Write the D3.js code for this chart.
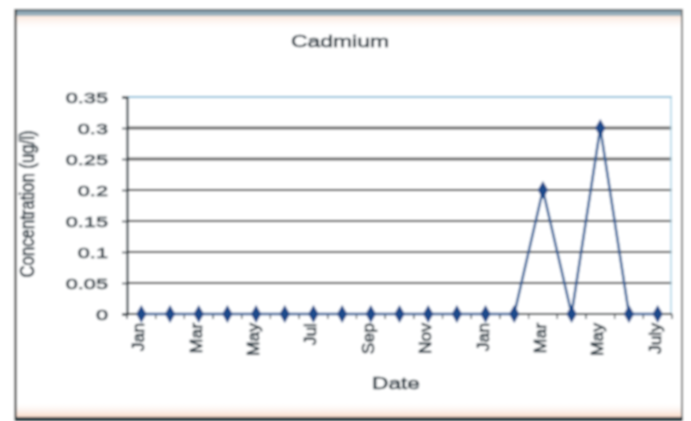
<!DOCTYPE html>
<html>
<head>
<meta charset="utf-8">
<script src="https://cdn.jsdelivr.net/npm/d3@7"></script>
<style>
  html, body { margin: 0; padding: 0; background: #fff; }
  svg { display: block; }
  text { font-family: "Liberation Sans", Arial, sans-serif; fill: #2b3a44; }
</style>
</head>
<body>
<svg id="chart" width="691" height="421"></svg>
<script>
// Monthly cadmium readings, Jan through July of the following year
const months = ["Jan","Feb","Mar","Apr","May","Jun","Jul","Aug","Sep","Oct","Nov","Dec",
                "Jan","Feb","Mar","Apr","May","Jun","July"];
const cadmium = [0,0,0,0,0,0,0,0,0,0,0,0,0,0,0.2,0,0.3,0,0];
const yTicks = [0,0.05,0.1,0.15,0.2,0.25,0.3,0.35];
const yTickLabels = ["0","0.05","0.1","0.15","0.2","0.25","0.3","0.35"];
const titleText = "Cadmium";
const xTitle = "Date";
const yTitle = "Concentration (ug/l)";

const svg = d3.select("#chart");
const W = 691, H = 421;
const plot = { left: 127, right: 672, top: 97, bottom: 314 };
const SX = 1.45; // horizontal glyph stretch
const ink = "#2a3841";
const weight = 0.55;

const defs = svg.append("defs");
const soft = defs.append("filter").attr("id", "soft")
  .attr("filterUnits", "userSpaceOnUse")
  .attr("x", 0).attr("y", 0).attr("width", W).attr("height", H);
soft.append("feGaussianBlur").attr("stdDeviation", 0.8);

const band = defs.append("linearGradient").attr("id", "topband")
  .attr("x1", 0).attr("x2", 0).attr("y1", 0).attr("y2", 1);
band.append("stop").attr("offset", "0%").attr("stop-color", "#5d707c");
band.append("stop").attr("offset", "50%").attr("stop-color", "#8fa6b3");
band.append("stop").attr("offset", "100%").attr("stop-color", "#a9bcc6");

const pinkBottom = defs.append("linearGradient").attr("id", "pinkb")
  .attr("x1", 0).attr("x2", 0).attr("y1", 0).attr("y2", 1);
pinkBottom.append("stop").attr("offset", "0%").attr("stop-color", "#fff").attr("stop-opacity", 0);
pinkBottom.append("stop").attr("offset", "100%").attr("stop-color", "#f8d9c8").attr("stop-opacity", 1);

const pinkTop = defs.append("linearGradient").attr("id", "pinkt")
  .attr("x1", 0).attr("x2", 0).attr("y1", 0).attr("y2", 1);
pinkTop.append("stop").attr("offset", "0%").attr("stop-color", "#fbe6da").attr("stop-opacity", 1);
pinkTop.append("stop").attr("offset", "100%").attr("stop-color", "#fff").attr("stop-opacity", 0);

const g = svg.append("g").attr("filter", "url(#soft)");

// chart frame
g.append("rect").attr("x", 0).attr("y", 0).attr("width", W).attr("height", H).attr("fill", "#fff");
g.append("rect").attr("x", 16).attr("y", 16).attr("width", 666).attr("height", 14).attr("fill", "url(#pinkt)");
g.append("rect").attr("x", 16).attr("y", 402).attr("width", 666).attr("height", 15).attr("fill", "url(#pinkb)");
g.append("rect").attr("x", 15).attr("y", 9).attr("width", 668).attr("height", 7).attr("fill", "url(#topband)");
g.append("line").attr("x1", 15).attr("x2", 683).attr("y1", 9.5).attr("y2", 9.5).attr("stroke", "#333").attr("stroke-width", 1);
g.append("line").attr("x1", 15.5).attr("x2", 15.5).attr("y1", 9).attr("y2", 421).attr("stroke", "#222").attr("stroke-width", 2);
g.append("line").attr("x1", 682).attr("x2", 682).attr("y1", 9).attr("y2", 418).attr("stroke", "#777").attr("stroke-width", 2);
g.append("rect").attr("x", 15).attr("y", 417).attr("width", 668).attr("height", 4).attr("fill", "#2e3c42");

// scales
const x = d3.scaleBand().domain(d3.range(months.length)).range([plot.left, plot.right]);
const y = d3.scaleLinear().domain([0, 0.35]).range([plot.bottom, plot.top]);

// gridlines
g.append("g").selectAll("line").data(yTicks.filter(v => v > 0)).join("line")
  .attr("x1", plot.left).attr("x2", plot.right)
  .attr("y1", d => y(d)).attr("y2", d => y(d))
  .attr("stroke", d => d === 0.35 ? "#8fc3dc" : (d >= 0.25 ? "#666" : "#222"))
  .attr("stroke-width", d => d === 0.35 ? 2 : (d >= 0.25 ? 3.2 : 2.2));
g.append("line").attr("x1", plot.right - 1).attr("x2", plot.right - 1)
  .attr("y1", plot.top).attr("y2", plot.bottom).attr("stroke", "#a9d2e6").attr("stroke-width", 1.5);

// y axis
const yAxis = g.append("g").attr("transform", `translate(${plot.left},0)`)
  .call(d3.axisLeft(y).tickValues(yTicks).tickSize(5).tickFormat((d, i) => yTickLabels[i]));
yAxis.select(".domain").attr("stroke", "#1e2b33").attr("stroke-width", 2);
yAxis.selectAll(".tick line").attr("stroke", "#1e2b33").attr("stroke-width", 1.5);
yAxis.selectAll(".tick text")
  .attr("font-size", 15).attr("fill", ink).attr("stroke", ink).attr("stroke-width", weight)
  .attr("x", 0).attr("dy", "0.35em")
  .attr("text-anchor", "end")
  .attr("transform", `translate(-19,0) scale(${SX},1)`);

// x axis with ticks between categories
const xAxisG = g.append("g").attr("transform", `translate(0,${plot.bottom})`);
xAxisG.append("line").attr("x1", plot.left).attr("x2", plot.right)
  .attr("stroke", "#1e2b33").attr("stroke-width", 1.8);
xAxisG.selectAll("line.tk").data(d3.range(months.length + 1)).join("line").attr("class", "tk")
  .attr("x1", i => plot.left + i * x.step()).attr("x2", i => plot.left + i * x.step())
  .attr("y1", 0).attr("y2", 5).attr("stroke", "#1e2b33").attr("stroke-width", 1.2);
xAxisG.selectAll("text").data(d3.range(months.length).filter(i => i % 2 === 0)).join("text")
  .attr("transform", i => `translate(${x(i) + x.bandwidth() / 2 + 3},9) rotate(-90) scale(1.25,1.12)`)
  .attr("text-anchor", "end")
  .attr("font-size", 14).attr("fill", ink).attr("stroke", ink).attr("stroke-width", weight)
  .text(i => months[i]);

// series line and markers
const line = d3.line().x((d, i) => x(i) + x.bandwidth() / 2).y(d => y(d));
g.append("path").datum(cadmium).attr("d", line)
  .attr("fill", "none").attr("stroke", "#2b5d96").attr("stroke-width", 2.5);
g.append("g").selectAll("path").data(cadmium).join("path")
  .attr("transform", (d, i) => `translate(${x(i) + x.bandwidth() / 2},${y(d)})`)
  .attr("d", d3.symbol().type(d3.symbolDiamond).size(95))
  .attr("fill", "#1f4a8a");

// titles
g.append("text").attr("transform", `translate(340,47) scale(1.35,1)`)
  .attr("text-anchor", "middle").attr("font-size", 17).attr("fill", ink)
  .attr("stroke", ink).attr("stroke-width", weight).text(titleText);
g.append("text").attr("transform", `translate(396,389) scale(1.42,1)`)
  .attr("text-anchor", "middle").attr("font-size", 16).attr("fill", ink)
  .attr("stroke", ink).attr("stroke-width", weight).text(xTitle);
g.append("text").attr("transform", `translate(34,204) rotate(-90) scale(1.08,1.25)`)
  .attr("text-anchor", "middle").attr("font-size", 15.5).attr("fill", ink)
  .attr("stroke", ink).attr("stroke-width", weight).text(yTitle);
</script>
</body>
</html>
